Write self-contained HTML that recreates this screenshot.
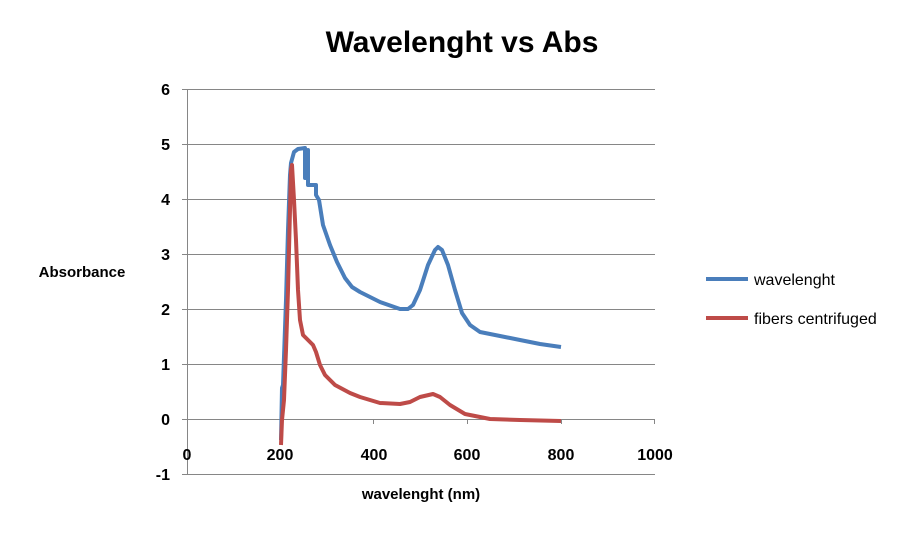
<!DOCTYPE html>
<html><head><style>body{margin:0;background:#fff}</style></head><body>
<svg width="924" height="531" xmlns="http://www.w3.org/2000/svg" font-family="Liberation Sans, sans-serif">
<rect width="924" height="531" fill="#fff"/>
<text x="462" y="52" text-anchor="middle" font-size="30" font-weight="bold">Wavelenght vs Abs</text>
<g stroke="#868686" stroke-width="1">
<line x1="187" y1="89.5" x2="655" y2="89.5"/><line x1="187" y1="144.5" x2="655" y2="144.5"/>
<line x1="187" y1="199.5" x2="655" y2="199.5"/><line x1="187" y1="254.5" x2="655" y2="254.5"/>
<line x1="187" y1="309.5" x2="655" y2="309.5"/><line x1="187" y1="364.5" x2="655" y2="364.5"/>
<line x1="187" y1="419.5" x2="655" y2="419.5"/><line x1="187" y1="474.5" x2="655" y2="474.5"/>
<line x1="187.5" y1="89" x2="187.5" y2="474"/>
<line x1="182" y1="89.5" x2="187" y2="89.5"/><line x1="182" y1="144.5" x2="187" y2="144.5"/><line x1="182" y1="199.5" x2="187" y2="199.5"/><line x1="182" y1="254.5" x2="187" y2="254.5"/><line x1="182" y1="309.5" x2="187" y2="309.5"/><line x1="182" y1="364.5" x2="187" y2="364.5"/><line x1="182" y1="419.5" x2="187" y2="419.5"/><line x1="182" y1="474.5" x2="187" y2="474.5"/>
<line x1="280.5" y1="419" x2="280.5" y2="424"/><line x1="373.5" y1="419" x2="373.5" y2="424"/><line x1="467.5" y1="419" x2="467.5" y2="424"/><line x1="561.5" y1="419" x2="561.5" y2="424"/><line x1="654.5" y1="419" x2="654.5" y2="424"/>
</g>
<g font-size="16" font-weight="bold" text-anchor="end">
<text x="170" y="95">6</text><text x="170" y="150">5</text><text x="170" y="205">4</text><text x="170" y="260">3</text><text x="170" y="315">2</text><text x="170" y="370">1</text><text x="170" y="425">0</text><text x="170" y="480">-1</text>
</g>
<g font-size="16" font-weight="bold" text-anchor="middle">
<text x="187" y="460">0</text><text x="280" y="460">200</text><text x="374" y="460">400</text><text x="467" y="460">600</text><text x="561" y="460">800</text><text x="655" y="460">1000</text>
</g>
<text x="82" y="277" font-size="15" font-weight="bold" text-anchor="middle">Absorbance</text>
<text x="421" y="499" font-size="15" font-weight="bold" text-anchor="middle">wavelenght (nm)</text>
<polyline fill="none" stroke="#4a7ebb" stroke-width="4" stroke-linejoin="round" points="281,440 282,388 283,385 286,300 288,230 290,175 291,163 294,152 298,149 305,148 305,178 308,178 308,150 308,185 316,185 316,195 319,200 323,225 330,245 337,262 345,278 352,287 360,292 380,302 400,309 408,309 413,305 420,290 428,265 435,250 438,247 442,250 448,265 455,290 462,313 470,325 480,332 500,336 520,340 540,344 561,347"/>
<polyline fill="none" stroke="#be4b48" stroke-width="4" stroke-linejoin="round" points="281,445 282,420 284,400 286,350 288,290 289,250 290,210 291,170 292,165 294,200 296,240 298,290 300,320 303,335 308,340 313,345 316,352 320,365 325,375 335,385 350,393 360,397 380,403 400,404 410,402 420,397 433,394 440,397 450,405 465,414 490,419 520,420 561,421"/>
<line x1="706" y1="279" x2="748" y2="279" stroke="#4a7ebb" stroke-width="4"/>
<text x="754" y="285" font-size="16">wavelenght</text>
<line x1="706" y1="318" x2="748" y2="318" stroke="#be4b48" stroke-width="4"/>
<text x="754" y="324" font-size="16">fibers centrifuged</text>
</svg>
</body></html>
